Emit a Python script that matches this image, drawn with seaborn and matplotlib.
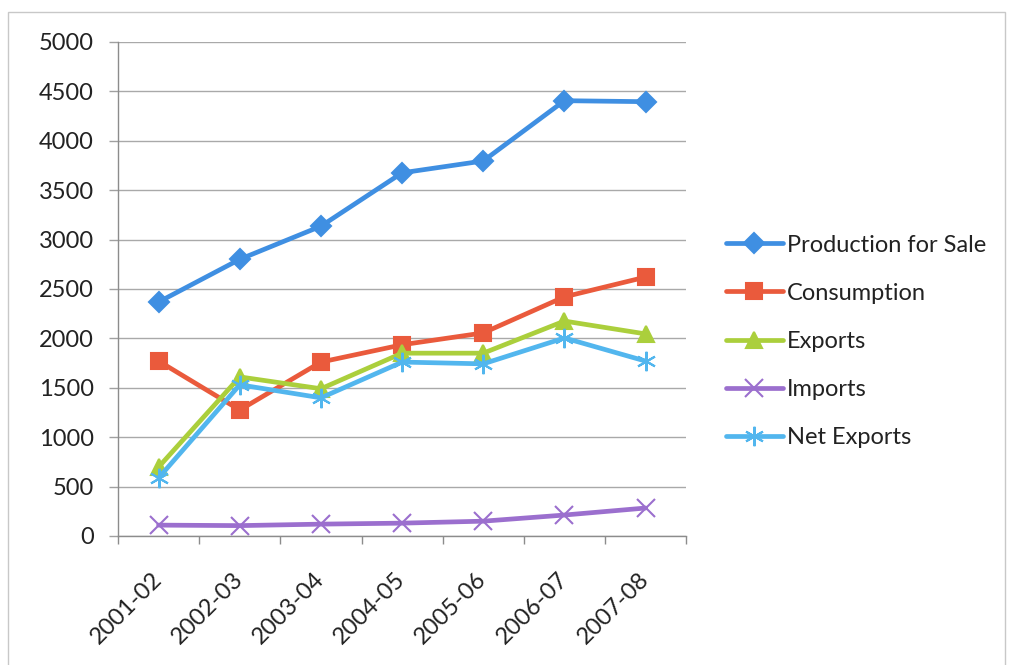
import matplotlib
matplotlib.use("Agg")
import matplotlib.pyplot as plt
from matplotlib.patches import Rectangle
from matplotlib.ticker import FixedLocator, NullFormatter
import seaborn as sns
import pandas as pd

years = ["2001-02", "2002-03", "2003-04", "2004-05", "2005-06", "2006-07", "2007-08"]
production = [2368, 2800, 3135, 3675, 3795, 4405, 4395]
consumption = [1770, 1275, 1760, 1935, 2055, 2420, 2620]
exports = [698, 1610, 1490, 1850, 1850, 2175, 2045]
imports = [110, 105, 120, 130, 150, 212, 283]
net_exports = [588, 1530, 1398, 1760, 1742, 2004, 1770]

series_names = ["Production for Sale", "Consumption", "Exports", "Imports", "Net Exports"]
series_values = [production, consumption, exports, imports, net_exports]
colors = ["#3F8FE2", "#EA5A3C", "#ABCF3C", "#9B6FCE", "#52B6EE"]
markers = ["D", "s", "^", "x", (6, 2, 0)]
marker_sizes = [10, 12, 12, 13, 14]

sns.set_theme(style="white")
plt.rcParams["font.family"] = ["Lato", "DejaVu Sans"]

fig = plt.figure(figsize=(10.09, 6.65), dpi=100)
ax = fig.add_axes([0.117, 0.194, 0.563, 0.743])

for name, vals, c, m, ms in zip(series_names, series_values, colors, markers, marker_sizes):
    d = pd.DataFrame({"x": range(len(years)), "value": vals})
    sns.lineplot(
        data=d, x="x", y="value", color=c, marker=m, markersize=ms,
        markeredgecolor=c, markeredgewidth=1.5, linewidth=3.4,
        label=name, ax=ax,
    )

ax.set_xlim(-0.5, 6.5)
ax.set_ylim(0, 5000)
ax.set_yticks(range(0, 5001, 500))
ax.yaxis.grid(True, color="#A9A9A9", linewidth=1.0)
ax.set_axisbelow(True)

ax.set_xticks(range(len(years)))
ax.set_xticklabels(years, rotation=45, ha="right", va="center", rotation_mode="anchor",
                   fontsize=17, color="#222222")
ax.xaxis.set_minor_locator(FixedLocator([i - 0.5 for i in range(len(years) + 1)]))
ax.xaxis.set_minor_formatter(NullFormatter())
ax.tick_params(axis="x", which="major", length=0, pad=29)
ax.tick_params(axis="x", which="minor", length=6, width=1, color="#8C8C8C", direction="out", bottom=True)
ax.tick_params(axis="y", length=6.5, width=1, color="#A0A0A0", direction="out", labelsize=17,
               labelcolor="#222222", pad=11, left=True)

for s in ["top", "right"]:
    ax.spines[s].set_visible(False)
for s in ["left", "bottom"]:
    ax.spines[s].set_color("#8C8C8C")
    ax.spines[s].set_linewidth(1.0)

ax.set_xlabel("")
ax.set_ylabel("")

leg = ax.legend(
    loc="center left", bbox_to_anchor=(1.07, 0.394), frameon=False,
    fontsize=17, handlelength=2.4, handletextpad=0.2, labelspacing=1.15,
    borderaxespad=0, borderpad=0,
)
for t in leg.get_texts():
    t.set_color("#222222")

fig.patches.append(Rectangle((8 / 1009, -0.01), 997 / 1009, 1 - 12 / 665 + 0.01,
                             transform=fig.transFigure, fill=False,
                             edgecolor="#C8C8C8", linewidth=1.0))

fig.savefig("out.png", dpi=100)
